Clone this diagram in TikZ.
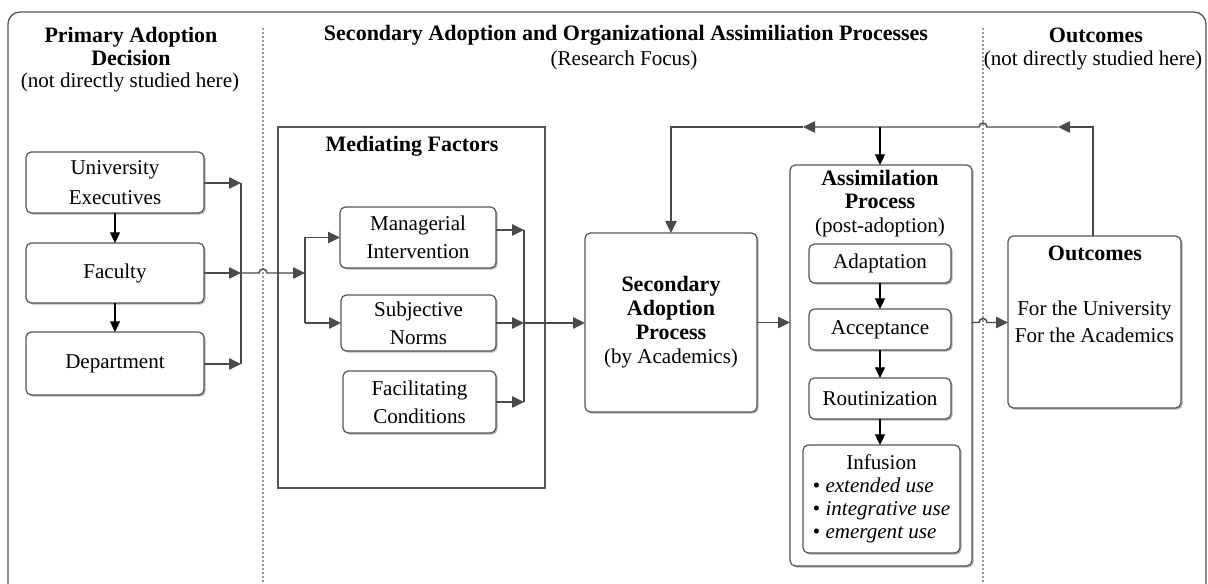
\documentclass[tikz,border=0pt]{standalone}
\usepackage{fontspec}
\setmainfont{Liberation Serif}
\usetikzlibrary{arrows.meta,shadows}
\definecolor{lgray}{HTML}{4A4A4A}
\definecolor{bgray}{HTML}{555555}
\definecolor{dgray}{HTML}{9A9A9A}
\newcommand{\bodyfont}{\fontsize{15.8}{19}\selectfont}
\newcommand{\ttlfont}{\fontsize{16.5}{17.5}\selectfont\bfseries}
\newcommand{\bt}[1]{{\fontsize{16.5}{18}\selectfont\bfseries #1}}
\newcommand{\bnode}[7][box]{\node[#1,minimum width={0.75pt*(#5-#3)},minimum height={0.75pt*(#6-#4)}] (#2) at ({(#3+#5)/2},{(#4+#6)/2}) {#7};}
\begin{document}
\begin{tikzpicture}[x=0.75pt,y=-0.75pt,
  every node/.style={font=\bodyfont, inner sep=0pt, outer sep=0pt},
  box/.style={draw=bgray, line width=0.9pt, rounded corners=4pt, fill=white, align=center,
    drop shadow={shadow xshift=1.2pt,shadow yshift=-1.2pt,opacity=0.3,fill=black}},
  frame/.style={draw=bgray, line width=1pt, fill=white},
  ttl/.style={font=\ttlfont, align=center},
  conn/.style={draw=lgray, line width=1.1pt, -{Triangle[length=9pt,width=8.5pt]}},
  line/.style={draw=lgray, line width=1.1pt},
  blk/.style={draw=black, line width=0.9pt, -{Triangle[length=8pt,width=7.5pt]}},
  divider/.style={draw=dgray, line width=1.2pt, dash pattern=on 1.2pt off 1.8pt}
]
\useasboundingbox (0,0) rectangle (1208,584);
\clip (0,0) rectangle (1208,584);
\fill[white] (0,0) rectangle (1208,584);

% outer frame
\draw[draw=bgray, line width=1pt, rounded corners=9pt] (8,12) rectangle (1206,600);

% dividers
\coordinate (d1t) at (263,28); \coordinate (d1b) at (263,584);
\coordinate (d2t) at (983,28); \coordinate (d2b) at (983,584);
\draw[divider] (d1t) -- (d1b);
\draw[divider] (d2t) -- (d2b);

% column titles
\node[ttl] (t1) at (131,46.5) {Primary Adoption\\Decision};
\node (s1) at (130,82) {(not directly studied here)};
\node[ttl] (t2) at (626,35) {Secondary Adoption and Organizational Assimiliation Processes};
\node (s2) at (624,60) {(Research Focus)};
\node[ttl] (t3) at (1096,35) {Outcomes};
\node (s3) at (1093,60) {(not directly studied here)};

% left column
\bnode[box,font=\fontsize{15.8}{22.5}\selectfont]{ue}{26}{152}{204}{213}{University\\Executives}
\bnode{fa}{26}{243}{204}{303}{Faculty}
\bnode{de}{26}{332}{204}{395}{Department}

% mediating factors
\bnode[frame]{mf}{278}{127}{545}{488}{}
\node[ttl] (mft) at (412,146) {Mediating Factors};
\bnode[box,font=\fontsize{15.8}{21}\selectfont]{mi}{340}{207}{496}{268}{Managerial\\Intervention}
\bnode[box,font=\fontsize{15.8}{21}\selectfont]{sn}{341}{295}{496}{351}{Subjective\\Norms}
\bnode[box,font=\fontsize{15.8}{21}\selectfont]{fc}{343}{371}{496}{433}{Facilitating\\Conditions}

% secondary adoption
\bnode[box,font=\fontsize{15.8}{18}\selectfont]{sec}{585}{233}{757}{412}{\bt{Secondary}\\\bt{Adoption}\\\bt{Process}\\(by Academics)}

% assimilation
\bnode{as}{790}{165}{972}{566}{}
\node[ttl] (ast) at (880,189.5) {Assimilation\\Process};
\node (asp) at (880,227) {(post-adoption)};
\bnode{ad}{809}{244}{951}{283}{Adaptation}
\bnode{ac}{809}{309}{951}{350}{Acceptance}
\bnode{ro}{809}{378}{951}{419}{Routinization}
\bnode[box,font=\fontsize{15.8}{17.25}\selectfont]{inf}{803}{445}{960}{553}{\begin{tabular}{@{}l@{}}\multicolumn{1}{@{}c@{}}{Infusion}\\ \textbullet\ \textit{extended use}\\ \textbullet\ \textit{integrative use}\\ \textbullet\ \textit{emergent use}\end{tabular}}

% outcomes
\bnode[box,font=\fontsize{15.8}{20.25}\selectfont]{out}{1008}{236}{1181}{408}{For the University\\For the Academics}
\node[ttl] (outt) at (1095,253) {Outcomes};

% left buses
\coordinate (bL1) at (241,183);
\coordinate (bL2) at (241,273);
\coordinate (bL3) at (241,364);
\draw[conn] (ue.east |- bL1) -- (bL1);
\draw[conn] (fa.east |- bL2) -- (bL2);
\draw[conn] (de.east |- bL3) -- (bL3);
\draw[line] (bL1) -- (bL3);

\coordinate (bM1) at (305,237.5);
\coordinate (bM2) at (305,273);
\coordinate (bM3) at (305,323);
\draw[conn] (bL2) -- ++(18,0) arc[start angle=180,end angle=0,radius=3pt] -- (bM2);
\draw[line] (bM1) -- (bM3);
\draw[conn] (bM1) -- (mi.west |- bM1);
\draw[conn] (bM3) -- (sn.west |- bM3);

\coordinate (bR1) at (524,230);
\coordinate (bR2) at (524,323);
\coordinate (bR3) at (524,402);
\draw[conn] (mi.east |- bR1) -- (bR1);
\draw[conn] (sn.east |- bR2) -- (bR2);
\draw[conn] (fc.east |- bR3) -- (bR3);
\draw[line] (bR1) -- (bR3);
\draw[conn] (bR2) -- (sec.west |- bR2);

% main flow
\draw[conn] (sec.east) -- (as.west |- sec.east);
\draw[conn] (as.east |- sec.east) -- ++(7,0) arc[start angle=180,end angle=0,radius=3pt] -- (out.west |- sec.east);

% black vertical arrows
\draw[blk] (ue) -- (fa);
\draw[blk] (fa) -- (de);
\draw[blk] (ad) -- (ac);
\draw[blk] (ac) -- (ro);
\draw[blk] (ro.south) -- (ro.south |- inf.north);

% feedback loop
\coordinate (fR) at (1093,127);
\coordinate (fA) at (1058,127);
\coordinate (fB) at (803,127);
\coordinate (fM) at (880,127);
\coordinate (fL) at (671,127);
\draw[conn] (fR |- out.north) -- (fR) -- (fA);
\draw[conn] (fA) -- ++(-71,0) arc[start angle=0,end angle=180,radius=3pt] -- (fB);
\draw[conn] (fB) -- (fL) -- (sec.north -| fL);
\draw[blk] (fM) -- (as.north -| fM);
\end{tikzpicture}
\end{document}
